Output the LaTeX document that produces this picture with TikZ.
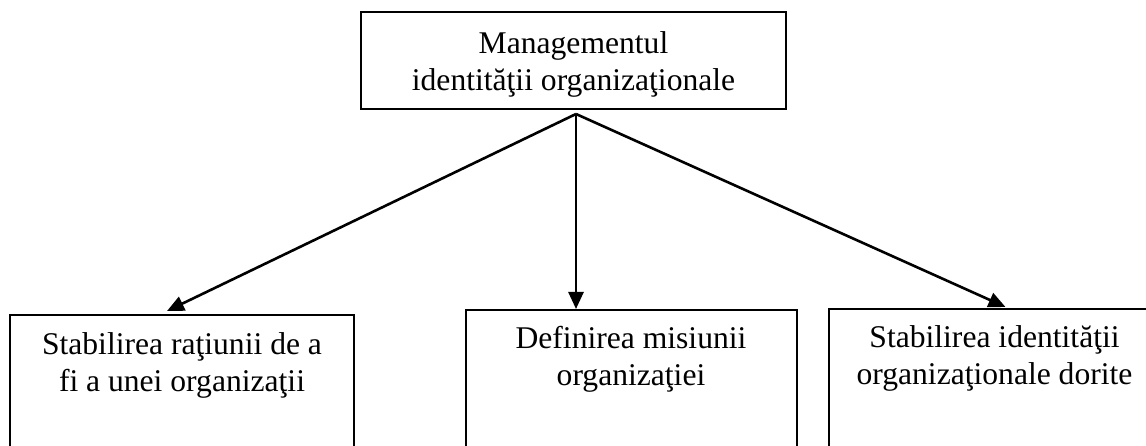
\documentclass[tikz,border=0pt]{standalone}
\usepackage{fontspec}
\setmainfont{Liberation Serif}
\usetikzlibrary{arrows.meta,calc}
\begin{document}
\begin{tikzpicture}[x=1pt,y=-1pt,
  frame/.style={draw, line width=2pt, rectangle, inner sep=0pt},
  label/.style={inner sep=0pt, anchor=north, align=center,
    font=\fontsize{31.6}{37}\selectfont},
  arr/.style={line width=2.6pt, -{Triangle[length=17pt,width=15pt]}}]
  \useasboundingbox (0,0) rectangle (1146,446);
  \clip (0,0) rectangle (1146,446);

  % top box
  \node[frame, minimum width=425pt, minimum height=97pt] (top) at (573.5,60.5) {};
  \node[label] (toptext) at (573.5,31.4) {Managementul\\identităţii organizaţionale};

  % three lower boxes, open at the bottom edge of the page
  \node[frame, minimum width=344pt, minimum height=185pt] (b1) at (182,407.5) {};
  \node[frame, minimum width=331pt, minimum height=190pt] (b2) at (631.5,405) {};
  \node[frame, minimum width=331pt, minimum height=191pt] (b3) at (994.5,404.5) {};

  \node[label] (t1) at (182,332.4) {Stabilirea raţiunii de a\\fi a unei organizaţii};
  \node[label] (t2) at (631,326.4) {Definirea misiunii\\organizaţiei};
  \node[label] (t3) at (994.5,325.4) {Stabilirea identităţii\\organizaţionale dorite};

  % connectors fanning out from one point under the top box
  \coordinate (hub) at ($(top.south)+(2.5,4)$);
  \draw[arr] (hub) -- ($(b1.north)+(-15,-3)$);
  \draw[arr] (hub) -- ($(b2.north)+(-55.5,0)$);
  \draw[arr] (hub) -- ($(b3.north)+(11,-1)$);
\end{tikzpicture}
\end{document}
